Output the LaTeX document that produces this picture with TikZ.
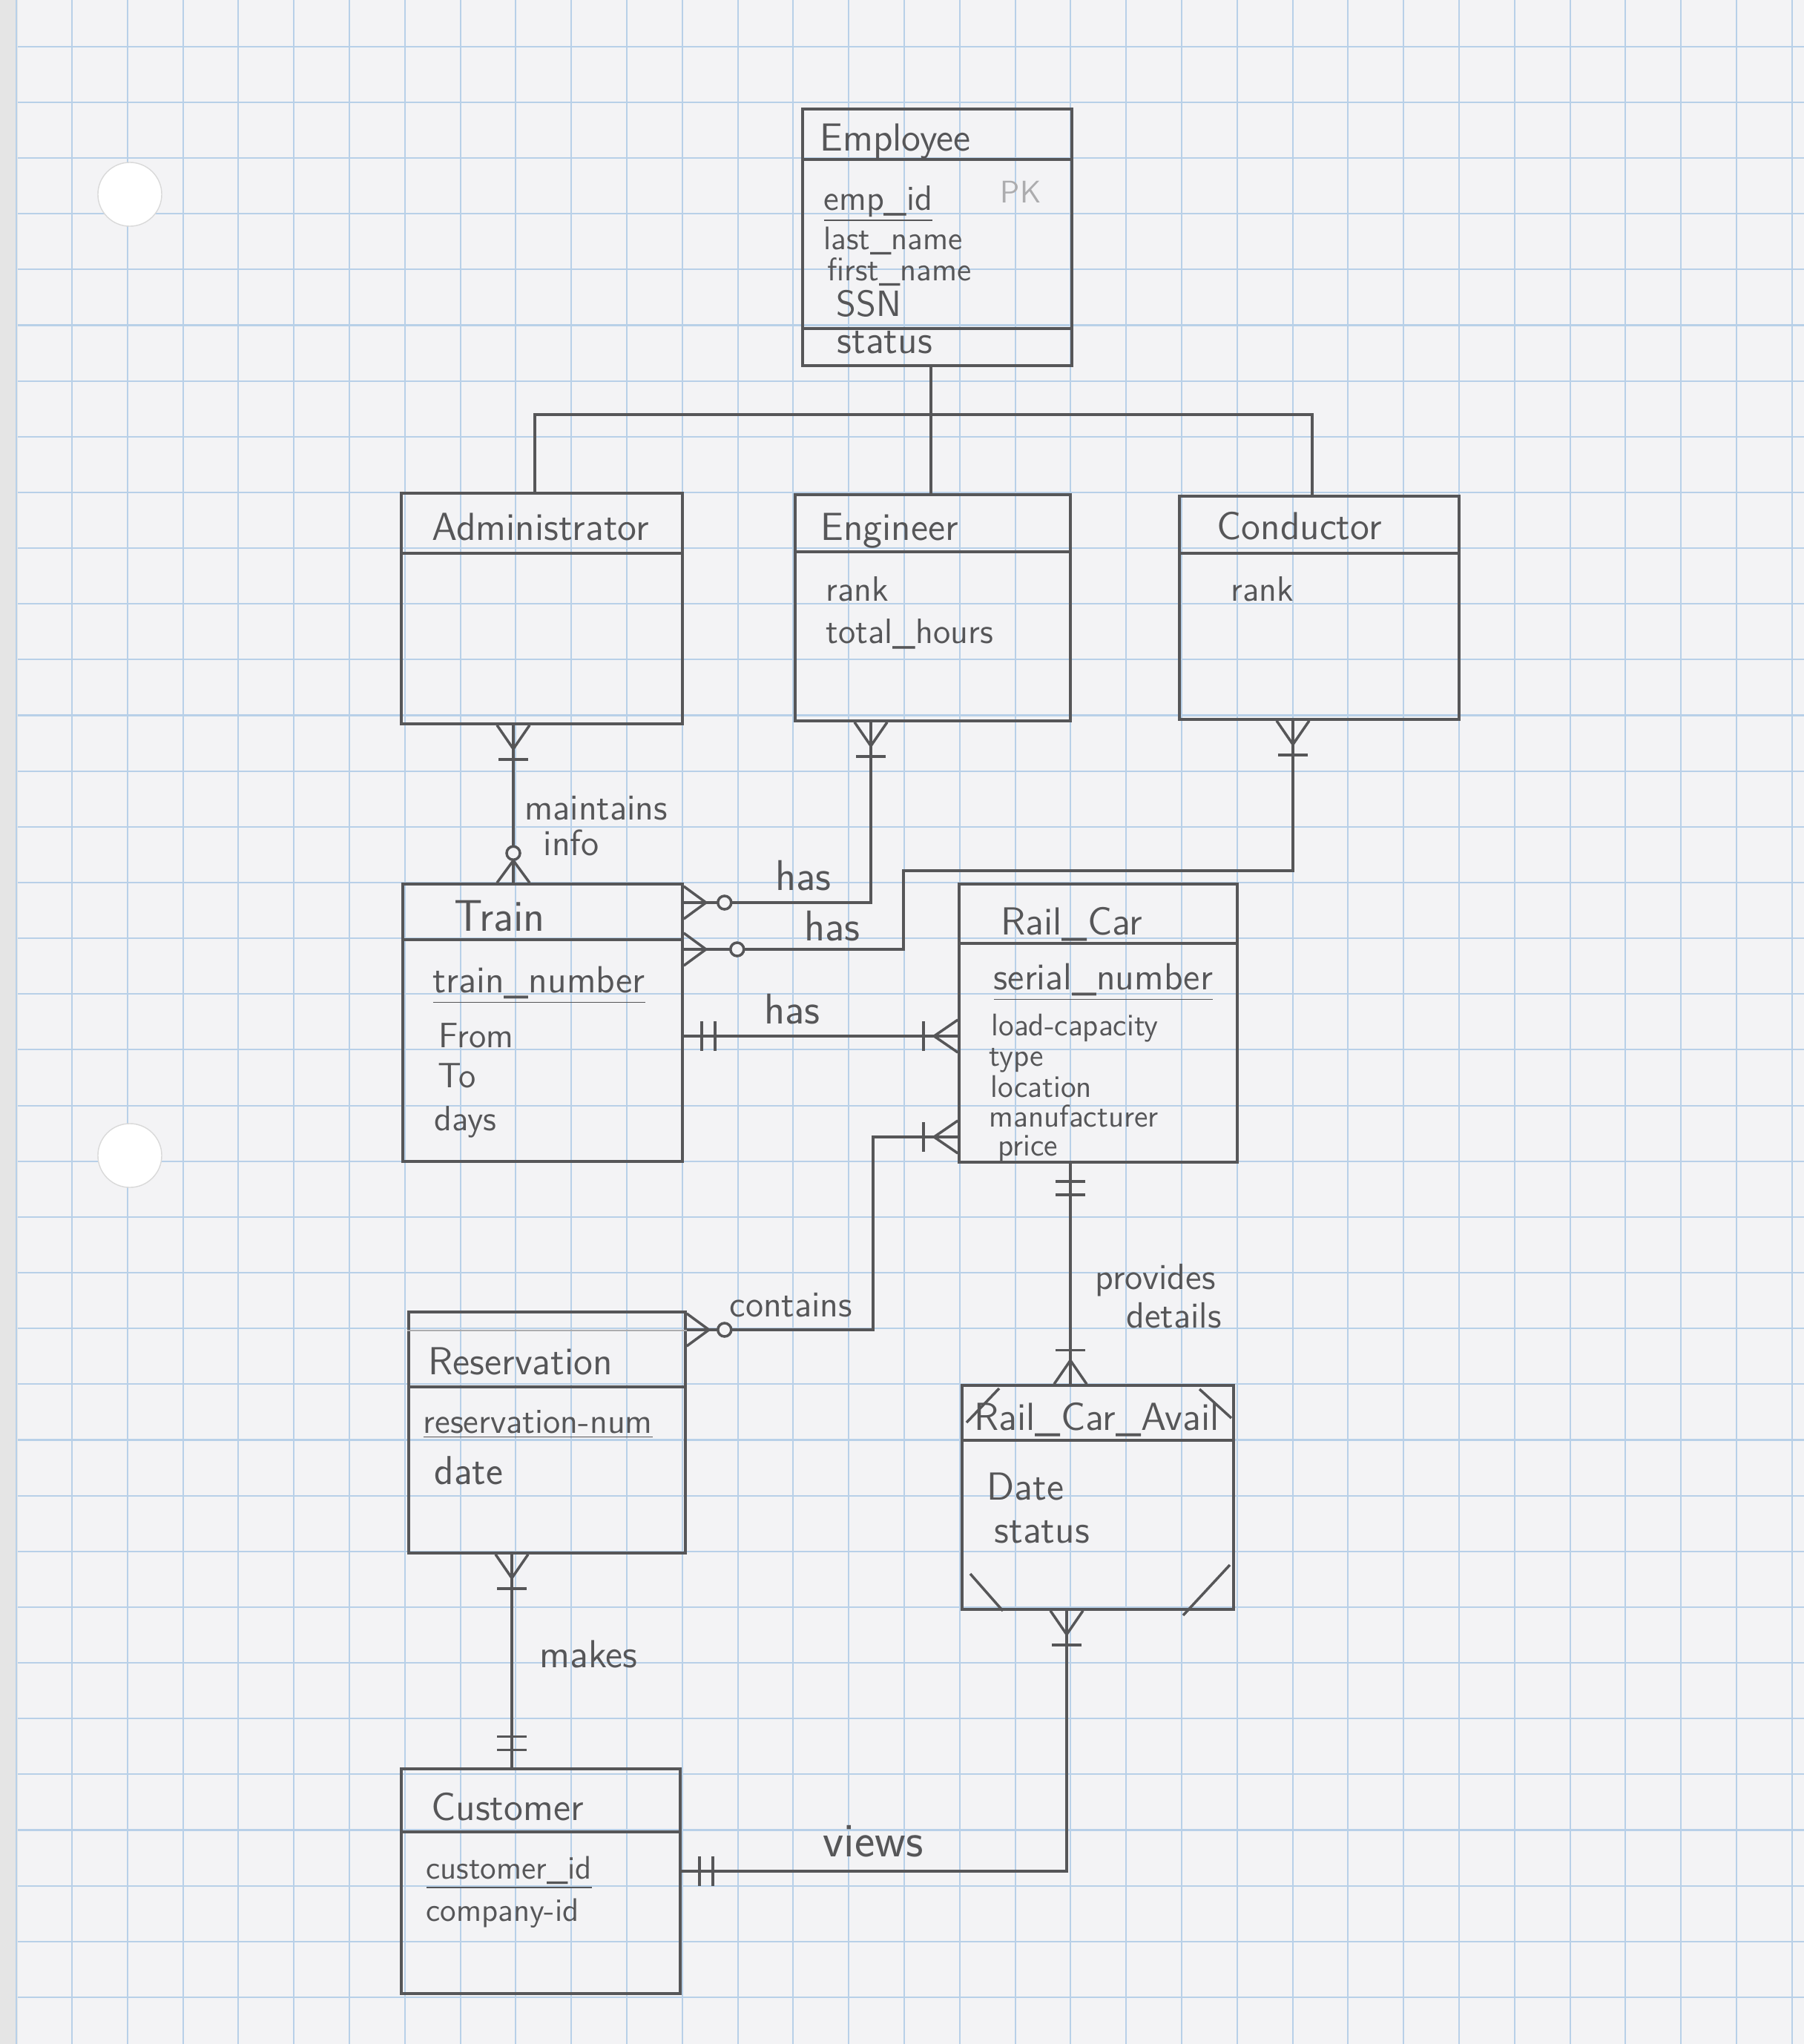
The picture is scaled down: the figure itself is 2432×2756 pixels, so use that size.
\documentclass[tikz,border=0pt]{standalone}
\usepackage{fontspec}
\usetikzlibrary{fit}

\definecolor{pencil}{RGB}{86,86,88}
\definecolor{faint}{RGB}{172,172,174}
\definecolor{paper}{RGB}{243,243,245}
\definecolor{gridblue}{RGB}{184,208,232}

\tikzset{
  entity/.style={draw=pencil, line width=1pt, inner sep=0pt},
  link/.style={draw=pencil, line width=1pt},
  title/.style={anchor=base west, inner sep=0pt, text=pencil, font=\sffamily\fontsize{15}{18}\selectfont},
  attr/.style={anchor=base west, inner sep=0pt, text=pencil, font=\sffamily\fontsize{13.5}{16}\selectfont},
  small/.style={font=\sffamily\fontsize{12.5}{15}\selectfont},
  tiny/.style={font=\sffamily\fontsize{12}{14}\selectfont},
  rel/.style={anchor=base west, inner sep=0pt, text=pencil, font=\sffamily\fontsize{14}{17}\selectfont},
  big/.style={font=\sffamily\fontsize{16.5}{19}\selectfont},
  % crow's foot ends, drawn pointing away from the box along +x
  pics/onemany/.style={code={\draw[link] (0,-22) -- (32,0) -- (0,22); \draw[link] (46,-20) -- (46,20);}},
  pics/zeromany/.style={code={\draw[link] (0,-22) -- (30,0) -- (0,22); \draw[link, fill=paper] (#1,0) circle (0.09cm);}},
  pics/zeromany/.default=46,
  pics/oneone/.style={code={\draw[link] (24,-20) -- (24,20) (42,-20) -- (42,20);}},
}

\begin{document}
\begin{tikzpicture}[x=0.01cm, y=-0.01cm]
\useasboundingbox (0,0) rectangle (2432,2756);

% paper
\fill[paper] (0,0) rectangle (2432,2756);
\fill[black!10] (0,0) rectangle (24,2756);
\foreach \i in {0,...,32}
  \draw[gridblue, line width=0.6pt] ({22.2+74.8*\i},0) -- ({22.2+74.8*\i},2756);
\foreach \j in {0,...,35}
  \draw[gridblue, line width=0.6pt] (24,{62.7+75.15*\j}) -- (2432,{62.7+75.15*\j});
\draw[black!15, fill=white] (175,262) circle (0.43cm);
\draw[black!15, fill=white] (175,1558) circle (0.43cm);

% entities
\node[entity, fit={(1082,147) (1445,493)}] (emp) {};
\node[entity, fit={(541,665) (920,976)}] (adm) {};
\node[entity, fit={(1072,667) (1443,972)}] (eng) {};
\node[entity, fit={(1590,669) (1967,970)}] (cond) {};
\node[entity, fit={(543,1192) (920,1566)}] (train) {};
\node[entity, fit={(1293,1192) (1668,1567)}] (car) {};
\node[entity, fit={(551,1769) (924,2094)}] (resv) {};
\node[entity, fit={(1297,1868) (1663,2170)}] (avail) {};
\node[entity, fit={(541,2385) (917,2688)}] (cust) {};

% title bars
\draw[link] (emp.west |- 0,215) -- (emp.east |- 0,215);
\draw[link] (emp.west |- 0,443) -- (emp.east |- 0,443);
\draw[link] (adm.west |- 0,746) -- (adm.east |- 0,746);
\draw[link] (eng.west |- 0,744) -- (eng.east |- 0,744);
\draw[link] (cond.west |- 0,746) -- (cond.east |- 0,746);
\draw[link] (train.west |- 0,1267) -- (train.east |- 0,1267);
\draw[link] (car.west |- 0,1272) -- (car.east |- 0,1272);
\draw[link] (resv.west |- 0,1870) -- (resv.east |- 0,1870);
\draw[faint, line width=0.8pt] (resv.west |- 0,1794) -- (resv.east |- 0,1794);
\draw[link] (avail.west |- 0,1942) -- (avail.east |- 0,1942);
\draw[link] (cust.west |- 0,2470) -- (cust.east |- 0,2470);

% corners of the associative entity
\draw[link] (1347,1872) -- (1303,1918);
\draw[link] (1617,1873) -- (1660,1912);
\draw[link] (1308,2122) -- (1352,2172);
\draw[link] (1658,2110) -- (1595,2178);

% texts
\node[title] (emp-t) at (1105,203) {Employee};
\node[attr] (emp-k) at (1110,283) {\underline{emp\_id}};
\node[attr, text=faint, tiny] (emp-pk) at (1348,273) {PK};
\node[attr, small] (emp-a1) at (1110,336) {last\_name};
\node[attr, small] (emp-a2) at (1115,378) {first\_name};
\node[attr, font=\sffamily\fontsize{14}{17}\selectfont] (emp-a3) at (1127,426) {SSN};
\node[attr, font=\sffamily\fontsize{15}{18}\selectfont] (emp-a4) at (1128,476) {status};

\node[title] (adm-t) at (582,728) {Administrator};

\node[title] (eng-t) at (1106,728) {Engineer};
\node[attr] (eng-a1) at (1113,810) {rank};
\node[attr] (eng-a2) at (1113,867) {total\_hours};

\node[title] (cond-t) at (1640,727) {Conductor};
\node[attr] (cond-a1) at (1659,810) {rank};

\node[title, font=\sffamily\fontsize{17}{20}\selectfont] (train-t) at (612,1255) {Train};
\node[attr, font=\sffamily\fontsize{14.5}{17}\selectfont] (train-k) at (583,1338) {\underline{train\_number}};
\node[attr] (train-a1) at (591,1412) {From};
\node[attr] (train-a2) at (590,1466) {To};
\node[attr] (train-a3) at (585,1524) {days};

\node[title] (car-t) at (1349,1260) {Rail\_Car};
\node[attr, font=\sffamily\fontsize{14.5}{17}\selectfont] (car-k) at (1339,1334) {\underline{serial\_number}};
\node[attr, tiny] (car-a1) at (1336,1396) {load-capacity};
\node[attr, tiny] (car-a2) at (1333,1437) {type};
\node[attr, tiny] (car-a3) at (1335,1479) {location};
\node[attr, tiny] (car-a4) at (1333,1519) {manufacturer};
\node[attr, tiny] (car-a5) at (1345,1558) {price};

\node[title] (resv-t) at (577,1853) {Reservation};
\node[attr] (resv-k) at (570,1932) {\underline{reservation-num}};
\node[attr, font=\sffamily\fontsize{15.5}{18}\selectfont] (resv-a1) at (585,2001) {date};

\node[title] (avail-t) at (1313,1928) {Rail\_Car\_Avail};
\node[attr, font=\sffamily\fontsize{15}{18}\selectfont] (avail-a1) at (1330,2022) {Date};
\node[attr, font=\sffamily\fontsize{15}{18}\selectfont] (avail-a2) at (1340,2080) {status};

\node[title] (cust-t) at (581,2454) {Customer};
\node[attr, small] (cust-k) at (574,2533) {\underline{customer\_id}};
\node[attr, small] (cust-a1) at (574,2590) {company-id};

% generalisation
\coordinate (split) at (1255,559);
\draw[link] (emp.south -| split) -- (eng.north -| split);
\draw[link] (adm.north -| 721,0) |- (split) -| (cond.north -| 1769,0);

% relationships
\draw[link] (adm.south -| 692,0) -- (train.north -| 692,0);
\draw[link] (train.east |- 0,1217) -| (eng.south -| 1174,0);
\draw[link] (train.east |- 0,1280) -| (1218,1174) -| (cond.south -| 1743,0);
\draw[link] (train.east |- 0,1397) -- (car.west |- 0,1397);
\draw[link] (resv.east |- 0,1793) -| (1177,1533) -- (car.west |- 0,1533);
\draw[link] (car.south -| 1443,0) -- (avail.north -| 1443,0);
\draw[link] (resv.south -| 690,0) -- (cust.north -| 690,0);
\draw[link] (avail.south -| 1438,0) |- (cust.east |- 0,2523);

\node[rel] (mi-1) at (707,1105) {maintains};
\node[rel] (mi-2) at (732,1153) {info};
\node[rel, big] (has-1) at (1045,1200) {has};
\node[rel, big] (has-2) at (1084,1268) {has};
\node[rel, big] (has-3) at (1030,1380) {has};
\node[rel] (cont) at (983,1775) {contains};
\node[rel] (prov-1) at (1476,1738) {provides};
\node[rel] (prov-2) at (1518,1790) {details};
\node[rel, font=\sffamily\fontsize{15}{18}\selectfont] (makes) at (727,2248) {makes};
\node[rel, font=\sffamily\fontsize{18.5}{22}\selectfont] (views) at (1109,2503) {views};

% ends
\pic[rotate=-90] at (adm.south -| 692,0) {onemany};
\pic[rotate=90] at (train.north -| 692,0) {zeromany=40};
\pic[rotate=-90] at (eng.south -| 1174,0) {onemany};
\pic[rotate=-90] at (cond.south -| 1743,0) {onemany};
\pic at (train.east |- 0,1217) {zeromany=55};
\pic at (train.east |- 0,1280) {zeromany=72};
\pic at (train.east |- 0,1397) {oneone};
\pic[rotate=180] at (car.west |- 0,1397) {onemany};
\pic[rotate=180] at (car.west |- 0,1533) {onemany};
\pic at (resv.east |- 0,1793) {zeromany=51};
\pic[rotate=-90] at (car.south -| 1443,0) {oneone};
\pic[rotate=90] at (avail.north -| 1443,0) {onemany};
\pic[rotate=-90] at (avail.south -| 1438,0) {onemany};
\pic at (cust.east |- 0,2523) {oneone};
\pic[rotate=-90] at (resv.south -| 690,0) {onemany};
\pic[rotate=90] at (cust.north -| 690,0) {oneone};
\end{tikzpicture}
\end{document}
